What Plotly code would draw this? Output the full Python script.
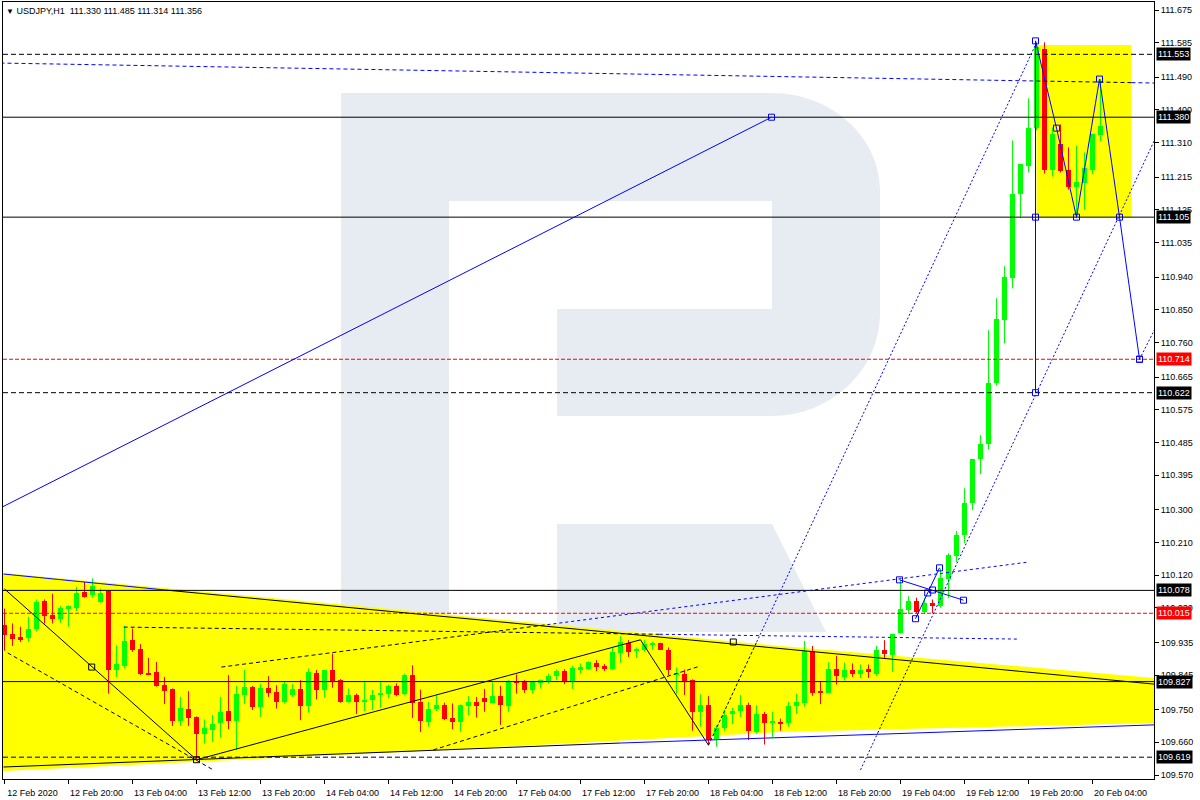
import plotly.graph_objects as go

# ---------------- data ----------------
symbol = "USDJPY,H1"
tick_labels = ["12 Feb 2020", "12 Feb 20:00", "13 Feb 04:00", "13 Feb 12:00", "13 Feb 20:00",
               "14 Feb 04:00", "14 Feb 12:00", "14 Feb 20:00", "17 Feb 04:00", "17 Feb 12:00",
               "17 Feb 20:00", "18 Feb 04:00", "18 Feb 12:00", "18 Feb 20:00", "19 Feb 04:00",
               "19 Feb 12:00", "19 Feb 20:00", "20 Feb 04:00"]
bars_per_label = 8

opens = [109.982, 109.958, 109.949, 109.947, 109.971, 110.048, 110.010, 109.999, 110.027, 110.030,
         110.073, 110.064, 110.046, 110.077, 109.859, 109.870, 109.941, 109.916, 109.851, 109.853,
         109.817, 109.806, 109.718, 109.753, 109.729, 109.684, 109.695, 109.712, 109.746, 109.719,
         109.790, 109.812, 109.758, 109.809, 109.798, 109.770, 109.789, 109.806, 109.760, 109.852,
         109.804, 109.859, 109.831, 109.771, 109.790, 109.771, 109.776, 109.790, 109.794, 109.816,
         109.794, 109.845, 109.771, 109.716, 109.751, 109.762, 109.726, 109.716, 109.760, 109.772,
         109.782, 109.769, 109.787, 109.760, 109.828, 109.828, 109.804, 109.824, 109.829, 109.843,
         109.856, 109.826, 109.860, 109.862, 109.877, 109.870, 109.862, 109.906, 109.932, 109.912,
         109.914, 109.930, 109.932, 109.914, 109.847, 109.849, 109.831, 109.744, 109.764, 109.669,
         109.698, 109.737, 109.746, 109.762, 109.689, 109.739, 109.714, 109.716, 109.714, 109.761,
         109.767, 109.911, 109.801, 109.796, 109.861, 109.840, 109.859, 109.848, 109.861, 109.849,
         109.914, 109.900, 109.961, 110.025, 110.048, 110.019, 110.044, 110.035, 110.109, 110.172,
         110.230, 110.318, 110.439, 110.480, 110.648, 110.821, 110.937, 111.170, 111.245, 111.349,
         111.569, 111.236, 111.305, 111.234, 111.187, 111.198, 111.236, 111.330]
highs = [110.028, 109.987, 109.978, 110.005, 110.053, 110.053, 110.069, 110.035, 110.037, 110.088,
         110.101, 110.111, 110.083, 110.079, 109.927, 109.980, 109.973, 109.930, 109.892, 109.881,
         109.840, 109.808, 109.785, 109.801, 109.731, 109.723, 109.735, 109.785, 109.845, 109.815,
         109.859, 109.815, 109.820, 109.842, 109.817, 109.826, 109.820, 109.831, 109.863, 109.859,
         109.859, 109.904, 109.834, 109.808, 109.794, 109.826, 109.804, 109.826, 109.818, 109.822,
         109.849, 109.872, 109.805, 109.771, 109.790, 109.769, 109.767, 109.764, 109.787, 109.785,
         109.807, 109.824, 109.815, 109.831, 109.847, 109.831, 109.829, 109.833, 109.849, 109.860,
         109.861, 109.870, 109.877, 109.883, 109.886, 109.875, 109.923, 109.952, 109.941, 109.921,
         109.941, 109.936, 109.934, 109.921, 109.866, 109.860, 109.833, 109.792, 109.787, 109.707,
         109.750, 109.755, 109.790, 109.769, 109.762, 109.744, 109.744, 109.725, 109.771, 109.794,
         109.939, 109.925, 109.828, 109.880, 109.898, 109.879, 109.877, 109.874, 109.874, 109.925,
         109.941, 109.959, 110.106, 110.062, 110.058, 110.058, 110.053, 110.138, 110.180, 110.241,
         110.359, 110.439, 110.505, 110.794, 110.882, 110.970, 111.316, 111.250, 111.432, 111.583,
         111.586, 111.352, 111.360, 111.297, 111.302, 111.283, 111.335, 111.485]
lows = [109.912, 109.925, 109.936, 109.936, 109.966, 109.987, 109.987, 109.989, 109.978, 110.021,
        110.058, 110.058, 110.044, 109.794, 109.840, 109.863, 109.909, 109.845, 109.845, 109.813,
        109.765, 109.705, 109.705, 109.705, 109.611, 109.657, 109.661, 109.673, 109.696, 109.639,
        109.765, 109.749, 109.730, 109.785, 109.753, 109.767, 109.785, 109.721, 109.742, 109.778,
        109.783, 109.810, 109.769, 109.769, 109.738, 109.746, 109.749, 109.755, 109.781, 109.787,
        109.790, 109.727, 109.688, 109.703, 109.746, 109.721, 109.696, 109.689, 109.735, 109.728,
        109.744, 109.767, 109.708, 109.744, 109.794, 109.796, 109.794, 109.808, 109.822, 109.831,
        109.820, 109.807, 109.849, 109.859, 109.856, 109.856, 109.859, 109.879, 109.895, 109.892,
        109.909, 109.915, 109.915, 109.845, 109.794, 109.790, 109.692, 109.703, 109.652, 109.648,
        109.692, 109.710, 109.730, 109.666, 109.684, 109.654, 109.675, 109.692, 109.703, 109.739,
        109.758, 109.788, 109.765, 109.796, 109.819, 109.830, 109.840, 109.837, 109.837, 109.842,
        109.891, 109.854, 109.959, 110.013, 110.013, 110.013, 110.015, 110.030, 110.057, 110.156,
        110.208, 110.299, 110.398, 110.466, 110.642, 110.758, 110.909, 111.104, 111.228, 111.344,
        111.225, 111.217, 111.228, 111.181, 111.102, 111.126, 111.223, 111.314]
closes = [109.955, 109.944, 109.944, 109.973, 110.045, 110.008, 109.999, 110.030, 110.035, 110.070,
          110.060, 110.090, 110.071, 109.860, 109.875, 109.938, 109.915, 109.847, 109.847, 109.815,
          109.802, 109.718, 109.755, 109.727, 109.684, 109.700, 109.710, 109.742, 109.719, 109.792,
          109.812, 109.758, 109.809, 109.796, 109.771, 109.821, 109.806, 109.760, 109.853, 109.804,
          109.859, 109.829, 109.771, 109.790, 109.771, 109.776, 109.790, 109.796, 109.816, 109.791,
          109.845, 109.769, 109.718, 109.753, 109.762, 109.724, 109.716, 109.762, 109.772, 109.760,
          109.771, 109.787, 109.762, 109.828, 109.825, 109.804, 109.826, 109.831, 109.843, 109.856,
          109.825, 109.865, 109.868, 109.881, 109.868, 109.862, 109.908, 109.936, 109.908, 109.916,
          109.930, 109.932, 109.915, 109.859, 109.849, 109.826, 109.744, 109.762, 109.666, 109.700,
          109.735, 109.746, 109.762, 109.692, 109.739, 109.714, 109.716, 109.712, 109.761, 109.770,
          109.911, 109.796, 109.796, 109.861, 109.842, 109.859, 109.848, 109.859, 109.854, 109.914,
          109.904, 109.959, 110.026, 110.048, 110.019, 110.042, 110.035, 110.111, 110.175, 110.230,
          110.318, 110.439, 110.480, 110.648, 110.824, 110.939, 111.170, 111.250, 111.349, 111.572,
          111.236, 111.333, 111.231, 111.187, 111.201, 111.239, 111.333, 111.356]

price_ticks = [111.675, 111.585, 111.490, 111.400, 111.310, 111.215, 111.125, 111.035, 110.940,
               110.850, 110.760, 110.665, 110.575, 110.485, 110.395, 110.300, 110.210, 110.120,
               110.030, 109.935, 109.845, 109.750, 109.660, 109.570]

# horizontal levels and their right-hand price boxes
level_prices = [111.553, 111.380, 111.105, 110.714, 110.622, 110.078, 110.015, 109.827, 109.619]
level_kinds = ["dash", "solid", "solid", "red", "dash", "solid", "red", "solid", "dash"]

# drawn analysis objects: (bar index, price)
trend_long = [(-0.5, 110.305), (95.875, 111.380)]
trend_top = [(-0.5, 111.529), (143.75, 111.474)]
zigzag_left = [(0, 110.082), (24, 109.612), (79.5, 109.942), (88, 109.652)]
dash_left = [(0.4, 109.906), (26.1, 109.584)]
dash_rise = [(53.6, 109.639), (87, 109.870)]
channel_mid = [(27.1, 109.867), (128, 110.156)]
flat_dash = [(14.9, 109.977), (126.6, 109.944)]
chan_l1 = [(88, 109.652), (129, 111.585)]
chan_l2 = [(107, 109.584), (143.75, 111.317)]
chan_l3 = [(141.875, 110.714), (143.75, 110.795)]
forecast = [(128.875, 111.590), (131.5, 111.350), (134, 111.105), (136.875, 111.485),
            (139.375, 111.105), (141.875, 110.714)]
forecast_stem = [(128.875, 111.590), (128.875, 111.105), (128.875, 110.622)]
feb19_a = [(111.875, 110.107), (119.875, 110.051)]
feb19_b = [(113.875, 110.000), (116.875, 110.140)]
feb19_marks = [(115.4, 110.071), (116.0, 110.079)]
wedge_top = [(-0.2, 110.126), (49.5, 110.024), (97, 109.925), (143.8, 109.837)]
wedge_bottom = [(143.8, 109.713), (97, 109.688), (49.5, 109.633), (-0.2, 109.581)]
wedge_edge_top = [(-0.125, 110.123), (20.1, 110.079), (143.75, 109.820)]
wedge_edge_bottom = [(-0.125, 109.592), (77, 109.658), (143.75, 109.708)]
black_marks = [(10.9, 109.867), (91.1, 109.936), (24, 109.612)]
box_zone = {"x0": 129.0, "x1": 140.875, "y0": 111.105, "y1": 111.579}

# ---------------- styles ----------------
BLUE = "#0000ff"
BLACK = "#000000"
RED = "#ff0000"
GREEN = "#00ff00"
YELLOW = "#ffff00"
FONT = "Liberation Sans, Arial, sans-serif"
DASH = "5px,3px"
DOT = "2px,2px"

n = len(opens)
X_RANGE = [-0.1875, 143.6875]
Y_RANGE = [109.559, 111.697]
PLOT_L, PLOT_R, PLOT_T, PLOT_B = 3, 1154, 2, 779

shapes = []


def add_line(a, b, color, dash="solid", width=1, layer="above"):
    shapes.append(dict(type="line", xref="x", yref="y", x0=a[0], y0=a[1], x1=b[0], y1=b[1],
                       line=dict(color=color, width=width, dash=dash), layer=layer))


def lerp(a, b, t):
    return (a[0] + (b[0] - a[0]) * t, a[1] + (b[1] - a[1]) * t)


def add_split(pts, parts):
    a, b = pts
    for t0, t1, color, dash in parts:
        add_line(lerp(a, b, t0), lerp(a, b, t1), color, dash)


def add_poly(pts, color, dash="solid"):
    for p, q in zip(pts[:-1], pts[1:]):
        add_line(p, q, color, dash)


def px_path(pts):
    # watermark drawn in screen-pixel space -> paper coords
    out = []
    for cmd, coords in pts:
        xy = []
        for k in range(0, len(coords), 2):
            xp = (coords[k] - PLOT_L) / (PLOT_R - PLOT_L)
            yp = (PLOT_B - coords[k + 1]) / (PLOT_B - PLOT_T)
            xy.append(f"{xp:.5f},{yp:.5f}")
        out.append(cmd + " " + " ".join(xy))
    return " ".join(out) + " Z"


# yellow wedge & box (below grid)
wedge = wedge_top + wedge_bottom
path = "M " + " L ".join(f"{x},{y}" for x, y in wedge) + " Z"
shapes.append(dict(type="path", xref="x", yref="y", path=path, fillcolor=YELLOW,
                   line=dict(width=0), layer="below"))
shapes.append(dict(type="rect", xref="x", yref="y", **box_zone, fillcolor=YELLOW,
                   line=dict(width=0), layer="below"))

# white dashed grid (visible on yellow only) and white bid line
for v in price_ticks:
    shapes.append(dict(type="line", xref="paper", yref="y", x0=0, x1=1, y0=v, y1=v,
                       line=dict(color="white", width=1, dash=DASH), layer="below"))
shapes.append(dict(type="line", xref="paper", yref="y", x0=0, x1=1, y0=closes[-1], y1=closes[-1],
                   line=dict(color="white", width=1), layer="below"))

# watermark "R"
wm_color = "rgba(0,40,120,0.095)"
r_body = [("M", [341, 93]), ("L", [772, 93]), ("C", [831, 93, 880, 137, 880, 190]),
          ("L", [880, 313]), ("C", [880, 370, 831, 416, 772, 416]), ("L", [557, 416]),
          ("L", [557, 309]), ("L", [772, 309]), ("L", [772, 201]), ("L", [449, 201]),
          ("L", [449, 632]), ("L", [341, 632])]
r_leg = [("M", [557, 524]), ("L", [772, 524]), ("L", [826, 632]), ("L", [557, 632])]
for p in (r_body, r_leg):
    shapes.append(dict(type="path", xref="paper", yref="paper", path=px_path(p),
                       fillcolor=wm_color, line=dict(width=0), layer="below"))

# horizontal levels
for price, kind in zip(level_prices, level_kinds):
    if kind == "red":
        ln = dict(color=RED, width=1, dash="4px,2px")
    elif kind == "dash":
        ln = dict(color=BLACK, width=1, dash=DASH)
    else:
        ln = dict(color=BLACK, width=1)
    shapes.append(dict(type="line", xref="paper", yref="y", x0=0, x1=1, y0=price, y1=price,
                       line=ln, layer="above"))

# analysis lines
add_line(*trend_long, BLUE)
add_split(trend_top, [(0, 0.8977, BLUE, "4px,3px"), (0.8977, 0.980, BLACK, "4px,3px"),
                      (0.980, 1, BLUE, "4px,3px")])
add_poly(zigzag_left, BLACK)
add_line(*dash_left, BLACK, "4px,3px")
add_line(*dash_rise, BLACK, "4px,3px")
add_split(channel_mid, [(0, 0.404, BLACK, "4px,3px"), (0.404, 1, BLUE, "3px,3px")])
add_split(flat_dash, [(0, 0.60, BLACK, "4px,3px"), (0.60, 1, BLUE, "3px,3px")])
add_split(chan_l1, [(0, 0.147, BLACK, "3px,2px"), (0.147, 1, BLUE, DOT)])
add_split(chan_l2, [(0, 0.059, BLUE, DOT), (0.059, 0.184, BLACK, DOT), (0.184, 1, BLUE, DOT)])
add_line(*chan_l3, BLUE, DOT)
add_poly(forecast, BLUE)
add_poly(forecast_stem, BLUE)
add_line(*feb19_a, BLUE)
add_line(*feb19_b, BLUE)
add_poly(wedge_edge_top[:2], BLUE)
add_poly(wedge_edge_top[1:], BLACK)
add_poly(wedge_edge_bottom[:2], BLACK)
add_poly(wedge_edge_bottom[1:], BLUE)

# ---------------- candles ----------------
fig = go.Figure()
for up, col in ((True, GREEN), (False, RED)):
    idx = [i for i in range(n) if (closes[i] >= opens[i]) == up]
    wx, wy = [], []
    for i in idx:
        wx += [i, i, None]
        wy += [lows[i], highs[i], None]
    fig.add_trace(go.Scatter(x=wx, y=wy, mode="lines", line=dict(color=col, width=1),
                             hoverinfo="skip", showlegend=False))
    fig.add_trace(go.Bar(x=idx,
                         y=[max(abs(closes[i] - opens[i]), 0.0012) for i in idx],
                         base=[min(opens[i], closes[i]) for i in idx],
                         width=0.625, marker=dict(color=col, line=dict(width=0)),
                         hoverinfo="skip", showlegend=False))

# anchor squares
mark_sets = [
    ([trend_long[1]] + forecast + forecast_stem[1:] + feb19_a + feb19_b + feb19_marks + [chan_l3[0]], BLUE),
    (black_marks, BLACK),
]
for pts, col in mark_sets:
    fig.add_trace(go.Scatter(x=[p[0] for p in pts], y=[p[1] for p in pts], mode="markers",
                             marker=dict(symbol="square-open", size=6, color=col, line=dict(width=1)),
                             hoverinfo="skip", showlegend=False, cliponaxis=False))

# ---------------- annotations ----------------
ann = []
for price, kind in zip(level_prices, level_kinds):
    ann.append(dict(xref="paper", x=1, xanchor="left", xshift=2, yref="y", y=price,
                    yanchor="middle", text=f"{price:.3f}", showarrow=False,
                    bgcolor=RED if kind == "red" else BLACK, borderpad=1,
                    font=dict(family=FONT, size=9, color="white")))
title_txt = ("<span style='font-size:8px'>\u25BC</span> " + symbol + "\u00a0\u00a0" +
             " ".join(f"{v:.3f}" for v in (opens[-1], highs[-1], lows[-1], closes[-1])))
ann.append(dict(xref="paper", yref="paper", x=0, y=1, xanchor="left", yanchor="top",
                xshift=1, yshift=-2, text=title_txt, showarrow=False,
                font=dict(family=FONT, size=9, color="black")))

fig.update_layout(
    width=1200, height=800,
    margin=dict(l=PLOT_L, r=1200 - PLOT_R, t=PLOT_T, b=800 - PLOT_B),
    plot_bgcolor="white", paper_bgcolor="white",
    barmode="overlay", bargap=0, showlegend=False,
    shapes=shapes, annotations=ann,
    xaxis=dict(range=X_RANGE, tickmode="array",
               tickvals=[k * bars_per_label for k in range(len(tick_labels))],
               ticktext=tick_labels, ticks="outside", ticklen=4, tickcolor=BLACK,
               showgrid=False, zeroline=False, showline=True, linecolor=BLACK, linewidth=1,
               mirror=True, tickfont=dict(family=FONT, size=9, color=BLACK),
               ticklabelshift=28, ticklabelstandoff=1),
    yaxis=dict(range=Y_RANGE, side="right", tickmode="array", tickvals=price_ticks,
               ticktext=[f"{v:.3f}" for v in price_ticks], ticks="outside", ticklen=4,
               tickcolor=BLACK, showgrid=False, zeroline=False, showline=True,
               linecolor=BLACK, linewidth=1, mirror=True,
               tickfont=dict(family=FONT, size=9, color=BLACK)),
)

fig.write_html("out.html", config={"displayModeBar": False},
               post_script="document.body.style.margin='0px';"
                           "document.body.style.overflow='hidden';")
